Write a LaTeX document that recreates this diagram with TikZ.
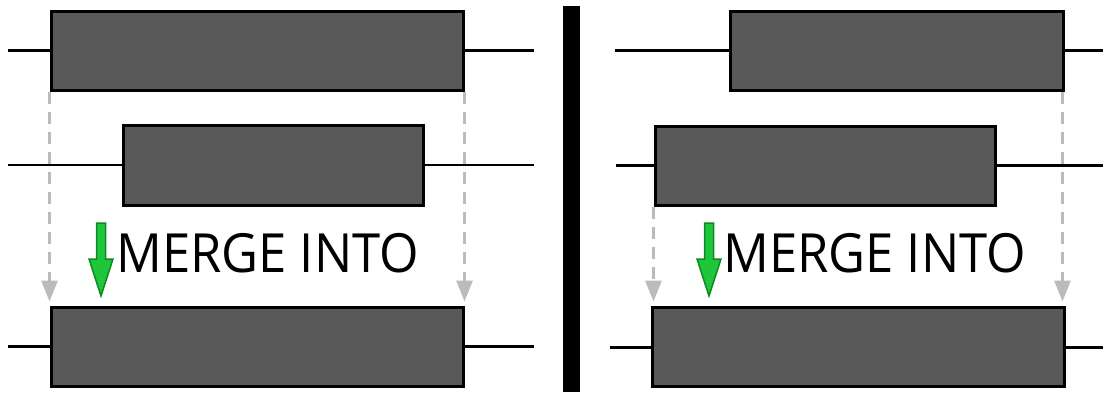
\documentclass[tikz,border=0pt]{standalone}
\usepackage{fontspec}
\setmainfont{Open Sans}
\usetikzlibrary{arrows.meta}
\definecolor{barfill}{HTML}{595959}
\definecolor{dashgray}{HTML}{BBBBBB}
\definecolor{arrgreen}{HTML}{1FC63C}
\definecolor{arrgreenb}{HTML}{0E8A22}
\tikzset{
  bar/.style={draw=black, fill=barfill, line width=3pt, inner sep=0pt, rectangle},
  whisker/.style={draw=black, line width=2.5pt},
  dasharrow/.style={draw=dashgray, line width=3pt, dash pattern=on 12pt off 8pt,
    -{Triangle[length=21pt,width=16pt,fill=dashgray]}, shorten >=4pt},
  greenarrow/.style={fill=arrgreen, draw=arrgreenb, line width=1.5pt, line join=miter},
  mergetext/.style={font=\fontsize{54}{60}\selectfont, anchor=base west, inner sep=0pt}
}
\begin{document}
\begin{tikzpicture}[x=1pt,y=-1pt]
\useasboundingbox (0,0) rectangle (1103,394);
% divider
\node[fill=black, inner sep=0pt, minimum width=17pt, minimum height=386pt] (div) at (571.5,199) {};
% ---------- left panel ----------
\node[bar, minimum width=412pt, minimum height=79pt] (a1) at (257,50.5) {};
\node[bar, minimum width=300pt, minimum height=80pt] (a2) at (273,165) {};
\node[bar, minimum width=412pt, minimum height=79pt] (a3) at (257,346.5) {};
\coordinate (a1l) at (8,50.5);  \coordinate (a1r) at (534,50.5);
\coordinate (a2l) at (8,165);   \coordinate (a2r) at (534,165);
\coordinate (a3l) at (8,346.5); \coordinate (a3r) at (534,346.5);
\draw[whisker] (a1l) -- (a1.west);  \draw[whisker] (a1.east) -- (a1r);
\draw[whisker] (a2l) -- (a2.west);  \draw[whisker] (a2.east) -- (a2r);
\draw[whisker] (a3l) -- (a3.west);  \draw[whisker] (a3.east) -- (a3r);
\draw[dasharrow] (a1.south west) -- (a1.south west |- a3.north);
\draw[dasharrow] (a1.south east) -- (a1.south east |- a3.north);
\draw[greenarrow] (96.5,223) -- (105.5,223) -- (105.5,259) -- (113,259) -- (101,296)
  -- (89,259) -- (96.5,259) -- cycle;
\node[mergetext] (m1) at (116,272) {\scalebox{0.94}[1]{MERGE INTO}};
% ---------- right panel ----------
\node[bar, minimum width=333pt, minimum height=79pt] (b1) at (896.5,50.5) {};
\node[bar, minimum width=340pt, minimum height=79pt] (b2) at (825,165.5) {};
\node[bar, minimum width=412pt, minimum height=79pt] (b3) at (858,346.5) {};
\coordinate (b1l) at (615,50.5);  \coordinate (b1r) at (1103,50.5);
\coordinate (b2l) at (616,165.5); \coordinate (b2r) at (1103,165.5);
\coordinate (b3l) at (610,347.5); \coordinate (b3r) at (1103,347.5);
\draw[whisker] (b1l) -- (b1.west);  \draw[whisker] (b1.east) -- (b1r);
\draw[whisker] (b2l) -- (b2.west);  \draw[whisker] (b2.east) -- (b2r);
\draw[whisker] (b3l) -- (b3l -| b3.west);  \draw[whisker] (b3r -| b3.east) -- (b3r);
\draw[dasharrow] (b2.south west) -- (b2.south west |- b3.north);
\draw[dasharrow] ([xshift=-2pt]b1.south east) -- ([xshift=-2pt]b1.south east |- b3.north);
\draw[greenarrow] (704.5,223) -- (713.5,223) -- (713.5,259) -- (721,259) -- (709,296)
  -- (697,259) -- (704.5,259) -- cycle;
\node[mergetext] (m2) at (723,272) {\scalebox{0.94}[1]{MERGE INTO}};
\end{tikzpicture}
\end{document}
